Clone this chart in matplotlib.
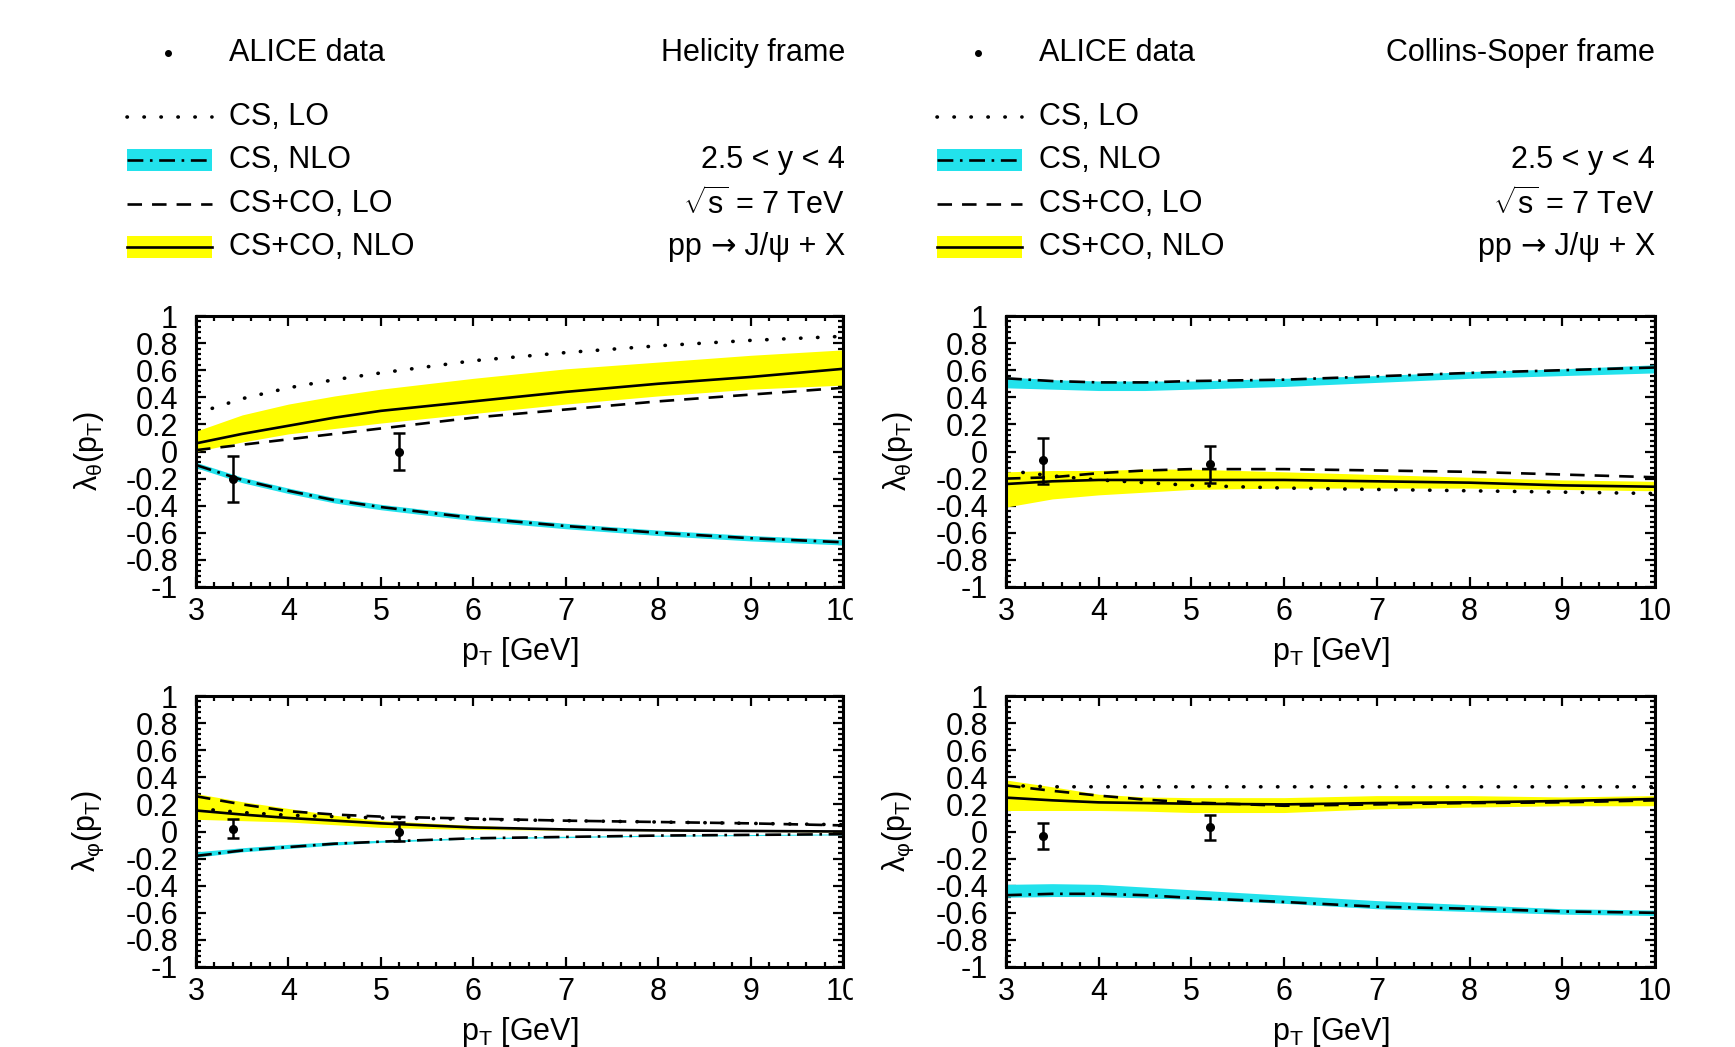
import numpy as np
import matplotlib
matplotlib.use("Agg")
import matplotlib.pyplot as plt
from matplotlib.ticker import MultipleLocator, FixedLocator, FixedFormatter
from matplotlib.patches import Rectangle

plt.rcParams['font.family'] = ['Liberation Sans', 'DejaVu Sans']
plt.rcParams['mathtext.fontset'] = 'custom'
plt.rcParams['mathtext.rm'] = 'Liberation Sans'
plt.rcParams['mathtext.it'] = 'Liberation Sans:italic'

# transverse momentum grid [GeV]
pt = [3, 3.5, 4, 4.5, 5, 6, 7, 8, 9, 10]

# Helicity frame, lambda_theta
hel_th_cs_lo = [0.28, 0.39, 0.47, 0.53, 0.58, 0.67, 0.73, 0.78, 0.82, 0.85]
hel_th_cs_nlo = [-0.10, -0.21, -0.29, -0.36, -0.41, -0.49, -0.55, -0.60, -0.64, -0.67]
hel_th_cs_nlo_hi = [-0.08, -0.19, -0.27, -0.34, -0.39, -0.47, -0.53, -0.58, -0.62, -0.65]
hel_th_cs_nlo_lo = [-0.12, -0.23, -0.31, -0.38, -0.43, -0.51, -0.57, -0.62, -0.66, -0.69]
hel_th_co_lo = [0.01, 0.05, 0.09, 0.13, 0.17, 0.25, 0.31, 0.37, 0.42, 0.47]
hel_th_co_nlo = [0.06, 0.13, 0.19, 0.25, 0.30, 0.37, 0.44, 0.50, 0.55, 0.61]
hel_th_co_nlo_hi = [0.15, 0.27, 0.35, 0.41, 0.46, 0.54, 0.61, 0.66, 0.71, 0.75]
hel_th_co_nlo_lo = [0.00, 0.07, 0.13, 0.17, 0.21, 0.28, 0.35, 0.41, 0.46, 0.49]

# Collins-Soper frame, lambda_theta
cs_th_cs_lo = [-0.14, -0.18, -0.21, -0.23, -0.25, -0.27, -0.28, -0.29, -0.30, -0.31]
cs_th_cs_nlo = [0.54, 0.52, 0.51, 0.51, 0.52, 0.53, 0.555, 0.58, 0.60, 0.62]
cs_th_cs_nlo_hi = [0.55, 0.53, 0.52, 0.52, 0.52, 0.54, 0.56, 0.59, 0.61, 0.64]
cs_th_cs_nlo_lo = [0.47, 0.46, 0.45, 0.45, 0.46, 0.48, 0.51, 0.54, 0.56, 0.58]
cs_th_co_lo = [-0.20, -0.19, -0.16, -0.14, -0.13, -0.13, -0.14, -0.15, -0.17, -0.19]
cs_th_co_nlo = [-0.24, -0.22, -0.21, -0.21, -0.21, -0.21, -0.22, -0.23, -0.25, -0.26]
cs_th_co_nlo_hi = [-0.15, -0.14, -0.14, -0.13, -0.13, -0.15, -0.17, -0.19, -0.21, -0.22]
cs_th_co_nlo_lo = [-0.41, -0.35, -0.32, -0.30, -0.28, -0.27, -0.27, -0.27, -0.28, -0.29]

# Helicity frame, lambda_phi
hel_ph_cs_lo = [0.17, 0.14, 0.12, 0.11, 0.10, 0.09, 0.08, 0.07, 0.06, 0.05]
hel_ph_cs_nlo = [-0.18, -0.14, -0.115, -0.09, -0.075, -0.05, -0.04, -0.03, -0.025, -0.02]
hel_ph_cs_nlo_hi = [-0.15, -0.12, -0.095, -0.075, -0.065, -0.045, -0.035, -0.027, -0.022, -0.018]
hel_ph_cs_nlo_lo = [-0.19, -0.15, -0.125, -0.10, -0.08, -0.055, -0.045, -0.035, -0.03, -0.025]
hel_ph_co_lo = [0.26, 0.20, 0.15, 0.125, 0.11, 0.095, 0.08, 0.07, 0.06, 0.045]
hel_ph_co_nlo = [0.155, 0.125, 0.10, 0.08, 0.06, 0.03, 0.015, 0.008, 0.004, 0.0]
hel_ph_co_nlo_hi = [0.28, 0.22, 0.17, 0.12, 0.08, 0.045, 0.02, 0.01, 0.005, 0.003]
hel_ph_co_nlo_lo = [0.09, 0.08, 0.07, 0.05, 0.03, 0.015, 0.01, 0.005, 0.0, -0.003]

# Collins-Soper frame, lambda_phi
cs_ph_cs_lo = [0.34, 0.33, 0.33, 0.33, 0.33, 0.33, 0.33, 0.33, 0.33, 0.33]
cs_ph_cs_nlo = [-0.47, -0.46, -0.46, -0.47, -0.49, -0.52, -0.555, -0.57, -0.59, -0.60]
cs_ph_cs_nlo_hi = [-0.39, -0.385, -0.39, -0.41, -0.43, -0.47, -0.51, -0.54, -0.57, -0.58]
cs_ph_cs_nlo_lo = [-0.485, -0.48, -0.48, -0.49, -0.50, -0.53, -0.57, -0.59, -0.61, -0.62]
cs_ph_co_lo = [0.34, 0.30, 0.265, 0.235, 0.215, 0.19, 0.20, 0.21, 0.215, 0.23]
cs_ph_co_nlo = [0.25, 0.23, 0.215, 0.21, 0.205, 0.20, 0.21, 0.215, 0.225, 0.24]
cs_ph_co_nlo_hi = [0.38, 0.33, 0.275, 0.255, 0.25, 0.25, 0.265, 0.265, 0.255, 0.265]
cs_ph_co_nlo_lo = [0.155, 0.155, 0.155, 0.15, 0.14, 0.14, 0.167, 0.18, 0.19, 0.19]

# ALICE data points
data_pt = [3.4, 5.2]
hel_th_data = [-0.20, 0.00]
hel_th_err = [[0.17, 0.14], [0.17, 0.14]]
cs_th_data = [-0.06, -0.09]
cs_th_err = [[0.18, 0.14], [0.16, 0.13]]
hel_ph_data = [0.02, 0.00]
hel_ph_err = [[0.07, 0.07], [0.07, 0.07]]
cs_ph_data = [-0.035, 0.03]
cs_ph_err = [[0.095, 0.09], [0.095, 0.09]]

y_ticks = [1, 0.8, 0.6, 0.4, 0.2, 0, -0.2, -0.4, -0.6, -0.8, -1]
y_tick_labels = ["1", "0.8", "0.6", "0.4", "0.2", "0", "-0.2", "-0.4", "-0.6", "-0.8", "-1"]
x_ticks = [3, 4, 5, 6, 7, 8, 9, 10]

YELLOW = "#ffff00"
CYAN = "#22e2ec"
W, H = 1735, 1047
FS = 22


def rect(x0, x1, y0, y1):
    return [x0 / W, 1 - y1 / H, (x1 - x0) / W, (y1 - y0) / H]


def style_line(ax, x, y, kind):
    if kind == "dotted":
        ax.plot(x, y, color="black", lw=2.6, dashes=(0.1, 4.6), dash_capstyle="round", zorder=4)
    elif kind == "dashed":
        ax.plot(x, y, color="black", lw=1.9, dashes=(5.5, 3.8), zorder=4)
    elif kind == "dashdot":
        ax.plot(x, y, color="black", lw=1.9, dashes=(6, 2.5, 1, 2.5), zorder=4)
    else:
        ax.plot(x, y, color="black", lw=1.9, zorder=4)


def draw_panel(ax, cs_lo, cs_nlo, cs_hi, cs_lo_b, co_lo, co_nlo, co_hi, co_lo_b, dat, err, ylabel):
    ax.fill_between(pt, cs_lo_b, cs_hi, color=CYAN, lw=0, zorder=2)
    ax.fill_between(pt, co_lo_b, co_hi, color=YELLOW, lw=0, zorder=2)
    style_line(ax, pt, cs_lo, "dotted")
    style_line(ax, pt, cs_nlo, "dashdot")
    style_line(ax, pt, co_lo, "dashed")
    style_line(ax, pt, co_nlo, "solid")
    ax.errorbar(data_pt, dat, yerr=err, fmt="o", color="black", ms=5.5, capsize=4,
                elinewidth=1.8, capthick=1.8, zorder=6)

    ax.set_xlim(3, 10)
    ax.set_ylim(-1, 1)
    ax.xaxis.set_major_locator(FixedLocator(x_ticks))
    ax.xaxis.set_minor_locator(MultipleLocator(0.2))
    ax.yaxis.set_major_locator(FixedLocator(y_ticks))
    ax.yaxis.set_major_formatter(FixedFormatter(y_tick_labels))
    ax.yaxis.set_minor_locator(MultipleLocator(0.04))
    ax.tick_params(which="both", direction="in", top=True, right=True, width=1.6)
    ax.tick_params(which="major", length=7)
    ax.tick_params(which="minor", length=3.5)
    ax.tick_params(axis="x", labelsize=FS, pad=7)
    ax.tick_params(axis="y", labelsize=FS, pad=13)
    for s in ax.spines.values():
        s.set_linewidth(2.2)
    ax.set_xlabel("p$_{\\mathrm{T}}$ [GeV]", fontsize=FS, va="center")
    ax.xaxis.set_label_coords(0.5, -0.24)
    ax.set_ylabel(ylabel, fontsize=FS, va="center")
    ax.yaxis.set_label_coords(-0.166, 0.5)


fig = plt.figure(figsize=(W / 100, H / 100), dpi=100)

lab_th = "λ$_{\\mathrm{θ}}$(p$_{\\mathrm{T}}$)"
lab_ph = "λ$_{\\mathrm{φ}}$(p$_{\\mathrm{T}}$)"

ax1 = fig.add_axes(rect(196, 843, 316, 587))
draw_panel(ax1, hel_th_cs_lo, hel_th_cs_nlo, hel_th_cs_nlo_hi, hel_th_cs_nlo_lo,
           hel_th_co_lo, hel_th_co_nlo, hel_th_co_nlo_hi, hel_th_co_nlo_lo,
           hel_th_data, hel_th_err, lab_th)

ax2 = fig.add_axes(rect(1006, 1655, 316, 587))
draw_panel(ax2, cs_th_cs_lo, cs_th_cs_nlo, cs_th_cs_nlo_hi, cs_th_cs_nlo_lo,
           cs_th_co_lo, cs_th_co_nlo, cs_th_co_nlo_hi, cs_th_co_nlo_lo,
           cs_th_data, cs_th_err, lab_th)

ax3 = fig.add_axes(rect(196, 843, 696, 967))
draw_panel(ax3, hel_ph_cs_lo, hel_ph_cs_nlo, hel_ph_cs_nlo_hi, hel_ph_cs_nlo_lo,
           hel_ph_co_lo, hel_ph_co_nlo, hel_ph_co_nlo_hi, hel_ph_co_nlo_lo,
           hel_ph_data, hel_ph_err, lab_ph)

ax4 = fig.add_axes(rect(1006, 1655, 696, 967))
draw_panel(ax4, cs_ph_cs_lo, cs_ph_cs_nlo, cs_ph_cs_nlo_hi, cs_ph_cs_nlo_lo,
           cs_ph_co_lo, cs_ph_co_nlo, cs_ph_co_nlo_hi, cs_ph_co_nlo_lo,
           cs_ph_data, cs_ph_err, lab_ph)

# overlay in pixel coordinates for the legends
ov = fig.add_axes([0, 0, 1, 1])
ov.set_xlim(0, W)
ov.set_ylim(H, 0)
ov.axis("off")

# the "10" labels of the left panels are cut in the original
ov.add_patch(Rectangle((853, 592), 45, 40, color="white", zorder=10))
ov.add_patch(Rectangle((853, 972), 45, 40, color="white", zorder=10))

rows = [117, 160, 204, 247]
for dx, frame in [(0, "Helicity frame"), (810, "Collins-Soper frame")]:
    x0, x1 = 127 + dx, 212 + dx
    ov.plot([168 + dx], [53], "o", color="black", ms=4)
    ov.text(229 + dx, 53, "ALICE data", fontsize=FS, va="center")
    ov.text(845 + dx, 53, frame, fontsize=FS, va="center", ha="right")

    style_line(ov, [x0, x1], [rows[0]] * 2, "dotted")
    ov.fill_between([x0, x1], rows[1] - 11, rows[1] + 11, color=CYAN, lw=0)
    style_line(ov, [x0, x1], [rows[1]] * 2, "dashdot")
    style_line(ov, [x0, x1], [rows[2]] * 2, "dashed")
    ov.fill_between([x0, x1], rows[3] - 11, rows[3] + 11, color=YELLOW, lw=0)
    style_line(ov, [x0, x1], [rows[3]] * 2, "solid")

    for r, name in zip(rows, ["CS, LO", "CS, NLO", "CS+CO, LO", "CS+CO, NLO"]):
        ov.text(229 + dx, r, name, fontsize=FS, va="center")

    ov.text(845 + dx, rows[1], "2.5 < y < 4", fontsize=FS, va="center", ha="right")
    ov.text(845 + dx, rows[2], "$\\sqrt{\\mathrm{s}}$ = 7 TeV", fontsize=FS, va="center", ha="right")
    # arrow from DejaVu Sans, the Liberation glyph is tiny
    t_right = ov.text(845 + dx, rows[3], " J/ψ + X", fontsize=FS, va="center", ha="right")
    t_arrow = ov.annotate("→", xy=(0, 0.5), xycoords=t_right, fontsize=FS,
                          family="DejaVu Sans", va="center", ha="right")
    ov.annotate("pp ", xy=(0, 0.5), xycoords=t_arrow, fontsize=FS, va="center", ha="right")

fig.savefig("out.png", dpi=100)
